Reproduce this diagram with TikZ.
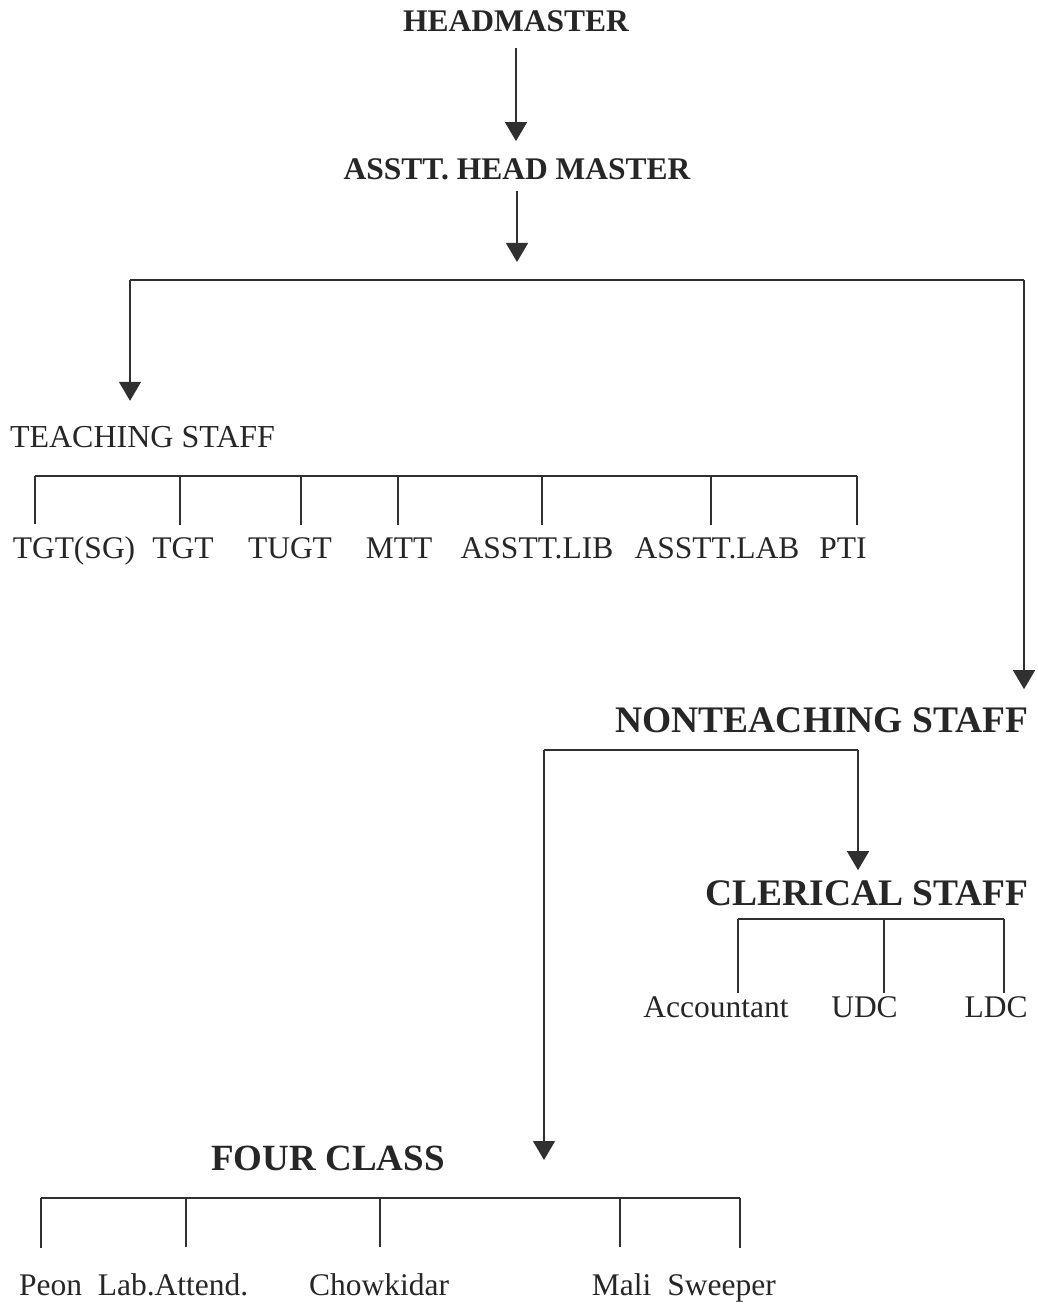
\documentclass[tikz,border=0pt]{standalone}
\usepackage{fontspec}
\setmainfont{Liberation Serif}
\usetikzlibrary{arrows.meta}
\definecolor{ink}{HTML}{262626}
\definecolor{wire}{HTML}{303030}
\begin{document}
\begin{tikzpicture}[x=1pt,y=-1pt,
  every node/.style={inner sep=0pt,outer sep=0pt,text=ink,anchor=base},
  head/.style={font=\fontsize{31.5}{36}\selectfont\bfseries},
  bighead/.style={font=\fontsize{37.5}{42}\selectfont\bfseries},
  plainhead/.style={font=\fontsize{32}{36}\selectfont},
  post/.style={font=\fontsize{31.5}{36}\selectfont},
  wireline/.style={draw=wire,line width=1.4pt},
  arr/.style={wireline,-{Triangle[width=22pt,length=19pt]}},
  tick/.style={wireline,line width=1.2pt}]
\useasboundingbox (0,0) rectangle (1037,1305);

% top of the hierarchy
\node[head] (hm)  at (516,32)  {HEADMASTER};
\node[head] (ahm) at (517,180) {ASSTT. HEAD MASTER};
\draw[arr,shorten <=16pt,shorten >=18pt] (hm.south) -- (hm.south |- ahm.north);

% split into teaching and non-teaching staff
\coordinate (split) at (517,280);
\coordinate (tl) at (130,280);
\coordinate (tr) at (1024,280);
\draw[arr,shorten <=11pt,shorten >=18pt] (ahm.south) -- (ahm.south |- split);
\draw[wireline] (tl) -- (tr);

% teaching staff
\node[plainhead,anchor=base west] (ts) at (10,447) {TEACHING STAFF};
\draw[arr,shorten >=25pt] (tl) -- (tl |- ts.north);

\node[post] (p1) at (74,558)  {TGT(SG)};
\node[post] (p2) at (183,558) {TGT};
\node[post] (p3) at (290,558) {TUGT};
\node[post] (p4) at (399,558) {MTT};
\node[post] (p5) at (537,558) {ASSTT.LIB};
\node[post] (p6) at (717,558) {ASSTT.LAB};
\node[post] (p7) at (843,558) {PTI};
\coordinate (t1) at (35,476);
\coordinate (t2) at (180,476);
\coordinate (t3) at (301,476);
\coordinate (t4) at (398,476);
\coordinate (t5) at (542,476);
\coordinate (t6) at (711,476);
\coordinate (t7) at (857,476);
\draw[tick] (t1) -- (t7);
\foreach \i in {1,...,7}
  \draw[tick,shorten >=12pt] (t\i) -- (t\i |- p\i.north);

% non-teaching staff
\node[bighead] (nts) at (822,732) {NONTEACHING STAFF};
\draw[arr,shorten >=18pt] (tr) -- (tr |- nts.north);
\coordinate (n1) at (544,750);
\coordinate (n2) at (858,750);
\draw[wireline] (n1) -- (n2);

% clerical staff
\node[bighead] (cs) at (867,905) {CLERICAL STAFF};
\draw[arr,shorten >=10pt] (n2) -- (n2 |- cs.north);
\node[post] (c1) at (716,1017)  {Accountant};
\node[post] (c2) at (864.5,1017) {UDC};
\node[post] (c3) at (996,1017)  {LDC};
\coordinate (k1) at (738,919);
\coordinate (k2) at (884,919);
\coordinate (k3) at (1004,919);
\draw[tick] (k1) -- (k3);
\foreach \i in {1,2,3}
  \draw[tick,shorten >=3pt] (k\i) -- (k\i |- c\i.north);

% fourth class staff
\node[font=\fontsize{37}{42}\selectfont\bfseries] (fc) at (328,1170) {FOUR CLASS};
\draw[arr,shorten >=10pt] (n1) -- (n1 |- fc.base);
\node[post] (f1) at (50.5,1295) {Peon};
\node[post] (f2) at (173,1295)  {Lab.Attend.};
\node[post] (f3) at (379,1295)  {Chowkidar};
\node[post] (f4) at (621.5,1295) {Mali};
\node[post] (f5) at (721.5,1295) {Sweeper};
\coordinate (q1) at (41,1198);
\coordinate (q2) at (186,1198);
\coordinate (q3) at (380,1198);
\coordinate (q4) at (620,1198);
\coordinate (q5) at (740,1198);
\draw[tick] (q1) -- (q5);
\foreach \i in {1,...,5}
  \draw[tick,shorten >=26pt] (q\i) -- (q\i |- f\i.north);
\end{tikzpicture}
\end{document}
